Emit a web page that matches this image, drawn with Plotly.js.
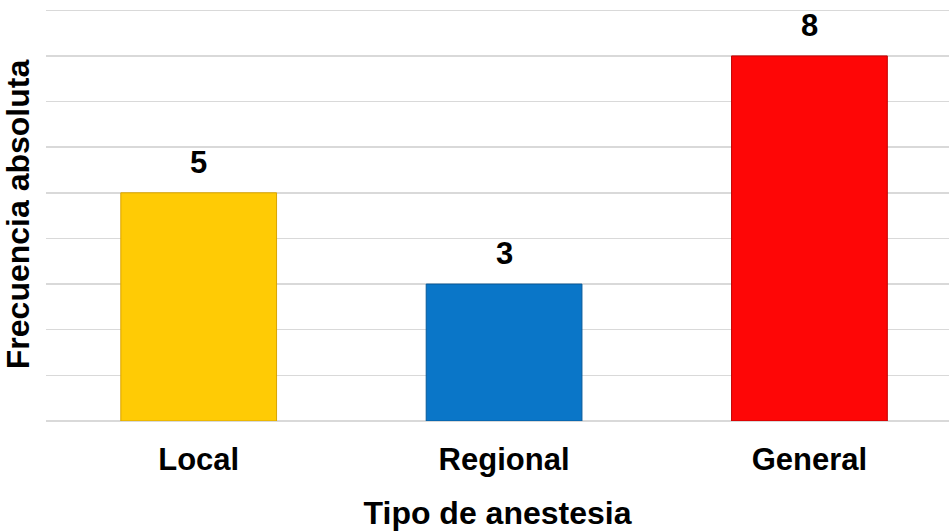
<!DOCTYPE html>
<html>
<head>
<meta charset="utf-8">
<script src="https://cdn.plot.ly/plotly-3.0.1.min.js"></script>
<style>html,body{margin:0;padding:0;background:#fff;}#chart{width:949px;height:531px;}</style>
</head>
<body>
<div id="chart"></div>
<script>
const categories = ["Local", "Regional", "General"];
const values = [5, 3, 8];
const barColors = ["#FFCB05", "#0A76C8", "#FE0606"];
const edgeColors = ["#D9A400", "#075A9A", "#C00000"];
const xTitle = "Tipo de anestesia";
const yTitle = "Frecuencia absoluta";

const FONT = "Liberation Sans, Arial, sans-serif";

const trace = {
  type: "bar",
  x: categories,
  y: values,
  marker: { color: barColors, line: { color: edgeColors, width: 1 } },
  width: 0.51,
  hoverinfo: "skip"
};

const annotations = categories.map((c, i) => ({
  x: c, y: values[i], xref: "x", yref: "y",
  text: String(values[i]),
  showarrow: false, yanchor: "bottom", yshift: 11,
  font: { family: FONT, size: 31, color: "#000000", weight: "bold" }
}));

const layout = {
  width: 949, height: 531,
  margin: { l: 46, r: 0, t: 8, b: 110 },
  paper_bgcolor: "#ffffff", plot_bgcolor: "#ffffff",
  showlegend: false,
  font: { family: FONT, color: "#000000" },
  xaxis: {
    range: [-0.5, 2.457],
    showgrid: false, zeroline: false, showline: false,
    ticks: "", ticklabelstandoff: 17,
    tickfont: { family: FONT, size: 31, color: "#000000", weight: "bold" },
    title: { text: xTitle, standoff: 32, font: { family: FONT, size: 32, color: "#000000", weight: "bold" } },
    automargin: false, fixedrange: true
  },
  yaxis: {
    range: [0, 9.05], dtick: 1, tick0: 0,
    showgrid: true, gridcolor: "#D9D9D9", gridwidth: 1.5,
    zeroline: true, zerolinecolor: "#D9D9D9", zerolinewidth: 1.5,
    showline: false, showticklabels: false, ticks: "",
    title: { text: yTitle, standoff: 5, font: { family: FONT, size: 32, color: "#000000", weight: "bold" } },
    automargin: false, fixedrange: true
  },
  annotations: annotations
};

Plotly.newPlot("chart", [trace], layout, { displayModeBar: false, staticPlot: true });
</script>
</body>
</html>
